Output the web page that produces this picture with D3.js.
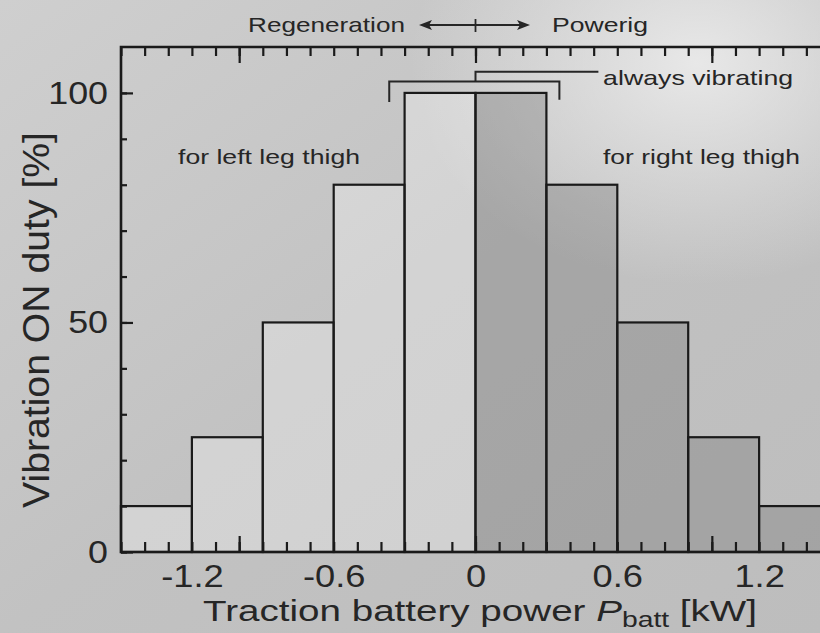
<!DOCTYPE html>
<html><head><meta charset="utf-8">
<script src="https://cdn.jsdelivr.net/npm/d3@7"></script>
<style>
body{margin:0;background:#c8c8c8;overflow:hidden}
svg{display:block}
text{font-family:"Liberation Sans",Arial,Helvetica,sans-serif;fill:#262626}
</style>
</head><body>
<svg id="c" width="820" height="633"></svg>
<script>
// ---- data ----
const binStarts = [-1.5, -1.2, -0.9, -0.6, -0.3, 0, 0.3, 0.6, 0.9, 1.2];
const binWidth = 0.3;
const duty = [10, 25, 50, 80, 100, 100, 80, 50, 25, 10];
const side = ["left","left","left","left","left","right","right","right","right","right"];
const xTickLabels = [-1.2, -0.6, 0, 0.6, 1.2];
const xMajorTicks = [-1, 0, 1];
const yTickLabels = [0, 50, 100];
const yMinorStep = 10;
const xMinorStep = 0.1;
const xDomain = [-1.5, 1.5];
const yDomain = [0, 110];

// ---- setup ----
const W = 820, H = 633;
const svg = d3.select("#c");
const x = d3.scaleLinear().domain(xDomain).range([121, 830]);
const y = d3.scaleLinear().domain(yDomain).range([552, 47]);

// background
const defs = svg.append("defs");
const lg = defs.append("linearGradient").attr("id","bg").attr("x1","0").attr("y1","0").attr("x2","1").attr("y2","1");
lg.append("stop").attr("offset","0").attr("stop-color","#cfcfcf");
lg.append("stop").attr("offset","0.5").attr("stop-color","#c2c2c2");
lg.append("stop").attr("offset","1").attr("stop-color","#bdbdbd");
const rg = defs.append("radialGradient").attr("id","glow").attr("cx","0.85").attr("cy","0.1").attr("r","0.35");
rg.append("stop").attr("offset","0").attr("stop-color","#ececec").attr("stop-opacity",0.9);
rg.append("stop").attr("offset","1").attr("stop-color","#ececec").attr("stop-opacity",0);
svg.append("rect").attr("width",W).attr("height",H).attr("fill","url(#bg)");
svg.append("rect").attr("width",W).attr("height",H).attr("fill","url(#glow)");

// bars
const bins = binStarts.map((s,i)=>({s, e:s+binWidth, v:duty[i], side:side[i]}));
svg.append("g").selectAll("rect").data(bins).join("rect")
  .attr("x", d=>x(d.s)).attr("width", d=>x(d.e)-x(d.s))
  .attr("y", d=>y(d.v)).attr("height", d=>y(0)-y(d.v))
  .attr("fill", d=>d.side==="left" ? "rgba(255,255,255,0.28)" : "rgba(110,110,110,0.32)")
  .attr("stroke","#1a1a1a").attr("stroke-width",2.2);

// helper: widen text horizontally (the reference is slightly stretched)
function stretch(sel, k){
  sel.each(function(){
    const w = this.getComputedTextLength();
    d3.select(this).attr("textLength", w*k).attr("lengthAdjust","spacingAndGlyphs");
  });
}

// axes
const xMinor = d3.range(Math.round(xDomain[0]/xMinorStep), Math.round(xDomain[1]/xMinorStep)+1).map(i=>+(i*xMinorStep).toFixed(2));
const yMinor = d3.range(yDomain[0], 101, yMinorStep);
function styleAxis(g){
  g.select(".domain").remove();
  g.selectAll(".tick line").attr("stroke","#1a1a1a").attr("stroke-width",2.2);
  g.selectAll("text").attr("fill","#262626").style("font-family",'"Liberation Sans",Arial,sans-serif');
}
// bottom
svg.append("g").attr("transform",`translate(0,${y(0)})`)
  .call(d3.axisBottom(x).tickValues(xMinor).tickSize(-10).tickFormat("")).call(styleAxis);
svg.append("g").attr("transform",`translate(0,${y(0)})`)
  .call(d3.axisBottom(x).tickValues(xMajorTicks).tickSize(-16).tickFormat("")).call(styleAxis);
const xl = svg.append("g").attr("transform",`translate(0,${y(0)})`)
  .call(d3.axisBottom(x).tickValues(xTickLabels).tickSize(0).tickPadding(13)
    .tickFormat(d=>d===0?"0":d3.format(".1f")(d).replace("−","-")))
  .call(styleAxis).selectAll("text").style("font-size","31px");
stretch(xl, 1.17);
// top
svg.append("g").attr("transform",`translate(0,${y(yDomain[1])})`)
  .call(d3.axisTop(x).tickValues(xMinor).tickSize(-9).tickFormat("")).call(styleAxis);
svg.append("g").attr("transform",`translate(0,${y(yDomain[1])})`)
  .call(d3.axisTop(x).tickValues(xMajorTicks).tickSize(-16).tickFormat("")).call(styleAxis);
// left
svg.append("g").attr("transform",`translate(${x(xDomain[0])},0)`)
  .call(d3.axisLeft(y).tickValues(yMinor).tickSize(-6).tickFormat("")).call(styleAxis);
const yl = svg.append("g").attr("transform",`translate(${x(xDomain[0])},0)`)
  .call(d3.axisLeft(y).tickValues(yTickLabels).tickSize(-12).tickPadding(13).tickFormat(d3.format("d")))
  .call(styleAxis).selectAll("text").style("font-size","32px");
stretch(yl, 1.12);

// frame
svg.append("path")
  .attr("d", `M${x(xDomain[1])},${y(yDomain[1])}H${x(xDomain[0])}V${y(0)}H${x(xDomain[1])}`)
  .attr("fill","none").attr("stroke","#1a1a1a").attr("stroke-width",2.6);

// annotation brackets
svg.append("path")
  .attr("d", `M${x(-0.365)},${y(98)}V${y(102.5)}H${x(0.355)}V${y(98.5)}`)
  .attr("fill","none").attr("stroke","#262626").attr("stroke-width",2);
svg.append("path")
  .attr("d", `M${x(0)},${y(102.5)}V${y(104.6)}H${x(0.52)}`)
  .attr("fill","none").attr("stroke","#262626").attr("stroke-width",2);

svg.append("text").attr("x",x(0.54)).attr("y",85).attr("font-size",21)
  .attr("textLength",190).attr("lengthAdjust","spacingAndGlyphs").text("always vibrating");
svg.append("text").attr("x",178).attr("y",164).attr("font-size",21)
  .attr("textLength",182).attr("lengthAdjust","spacingAndGlyphs").text("for left leg thigh");
svg.append("text").attr("x",603).attr("y",164).attr("font-size",21)
  .attr("textLength",197).attr("lengthAdjust","spacingAndGlyphs").text("for right leg thigh");

// top direction indicator
svg.append("text").attr("x",248).attr("y",32).attr("font-size",21)
  .attr("textLength",157).attr("lengthAdjust","spacingAndGlyphs").text("Regeneration");
svg.append("text").attr("x",552).attr("y",32).attr("font-size",21)
  .attr("textLength",96).attr("lengthAdjust","spacingAndGlyphs").text("Powerig");
const ax0 = 419, ax1 = 530, ay = 25;
svg.append("line").attr("x1",ax0+6).attr("x2",ax1-6).attr("y1",ay).attr("y2",ay)
  .attr("stroke","#262626").attr("stroke-width",1.8);
svg.append("path").attr("d",`M${ax0},${ay}L${ax0+13},${ay-5}L${ax0+10},${ay}L${ax0+13},${ay+5}Z`).attr("fill","#262626");
svg.append("path").attr("d",`M${ax1},${ay}L${ax1-13},${ay-5}L${ax1-10},${ay}L${ax1-13},${ay+5}Z`).attr("fill","#262626");
svg.append("line").attr("x1",x(0)).attr("x2",x(0)).attr("y1",19).attr("y2",32)
  .attr("stroke","#262626").attr("stroke-width",1.8);

// axis titles
const xt = svg.append("text").attr("x",203).attr("y",621).attr("font-size",30)
  .attr("textLength",554).attr("lengthAdjust","spacingAndGlyphs");
xt.append("tspan").text("Traction battery power ");
xt.append("tspan").attr("font-style","italic").text("P");
xt.append("tspan").attr("font-size",22).attr("dy",6).text("batt");
xt.append("tspan").attr("dy",-6).text(" [kW]");

svg.append("text").attr("transform","translate(49,320) scale(1.3,1) rotate(-90)").attr("text-anchor","middle")
  .attr("font-size",29).attr("textLength",376).attr("lengthAdjust","spacingAndGlyphs")
  .text("Vibration  ON duty  [%]");
</script>
</body></html>
